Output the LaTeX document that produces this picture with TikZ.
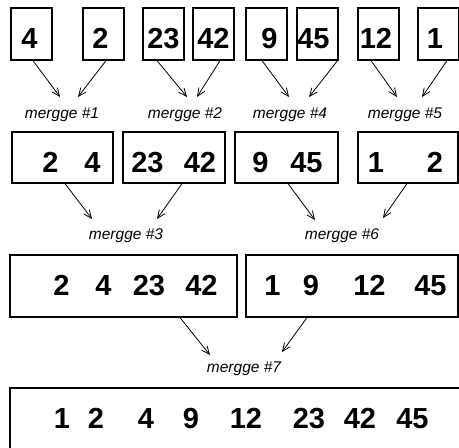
\documentclass[tikz,border=0pt]{standalone}
\usepackage{fontspec}
\setmainfont{Liberation Sans}
\usetikzlibrary{arrows.meta}
\begin{document}
\begin{tikzpicture}[x=1pt,y=-1pt,
  box/.style={draw,line width=1.2pt,inner sep=0pt,rectangle},
  num/.style={inner sep=0pt,anchor=base,font=\fontsize{29}{30}\selectfont\bfseries},
  lab/.style={inner sep=0pt,font=\fontsize{15.5}{16}\selectfont\itshape},
  arr/.style={line width=0.8pt,-{Straight Barb[length=8pt,width=7pt]}}]
\useasboundingbox[fill=white] (0,0) rectangle (459,448);
% row 1
\node[box,minimum width=41pt,minimum height=52pt] (b1) at (31.5,34) {};
\node[box,minimum width=41pt,minimum height=52pt] (b2) at (103.5,34) {};
\node[box,minimum width=41pt,minimum height=52pt] (b3) at (163.5,34) {};
\node[box,minimum width=41pt,minimum height=52pt] (b4) at (213.5,34) {};
\node[box,minimum width=41pt,minimum height=52pt] (b5) at (266.5,34) {};
\node[box,minimum width=41pt,minimum height=52pt] (b6) at (317.5,34) {};
\node[box,minimum width=41pt,minimum height=52pt] (b7) at (378.5,34) {};
\node[box,minimum width=41pt,minimum height=52pt] (b8) at (438.5,34) {};
\node[num] (n1) at (29.5,48) {4};
\node[num] (n2) at (100.5,48) {2};
\node[num] (n3) at (163.5,48) {23};
\node[num] (n4) at (213.5,48) {42};
\node[num] (n5) at (269.5,48) {9};
\node[num] (n6) at (313.5,48) {45};
\node[num] (n7) at (376,48) {12};
\node[num] (n8) at (435,48) {1};
% labels row 1
\node[lab] (m1) at (62,115) {mergge \#1};
\node[lab] (m2) at (185,115) {mergge \#2};
\node[lab] (m4) at (290,115) {mergge \#4};
\node[lab] (m5) at (405,115) {mergge \#5};
\draw[arr] ([xshift=1.5pt]b1.south) -- ([xshift=-2pt,yshift=18pt]m1.center);
\draw[arr] ([xshift=2.5pt]b2.south) -- ([xshift=16pt,yshift=18pt]m1.center);
\draw[arr] ([xshift=-6.5pt]b3.south) -- ([xshift=2pt,yshift=18pt]m2.center);
\draw[arr] ([xshift=6.5pt]b4.south) -- ([xshift=12pt,yshift=18pt]m2.center);
\draw[arr] ([xshift=-4.5pt]b5.south) -- ([xshift=-1pt,yshift=18pt]m4.center);
\draw[arr] ([xshift=-1pt]b6.south east) -- ([xshift=19pt,yshift=18pt]m4.center);
\draw[arr] ([xshift=-7.5pt]b7.south) -- ([xshift=-8pt,yshift=18pt]m5.center);
\draw[arr] ([xshift=8.5pt]b8.south) -- ([xshift=17pt,yshift=18pt]m5.center);
% row 2
\node[box,minimum width=101pt,minimum height=51pt] (c1) at (62.5,157.5) {};
\node[box,minimum width=102pt,minimum height=51pt] (c2) at (174,157.5) {};
\node[box,minimum width=103pt,minimum height=51pt] (c3) at (286.5,157.5) {};
\node[box,minimum width=100pt,minimum height=51pt] (c4) at (408,157.5) {};
\node[num] (p1) at (50.5,172) {2};
\node[num] (p2) at (92.5,172) {4};
\node[num] (p3) at (147.5,172) {23};
\node[num] (p4) at (200,172) {42};
\node[num] (p5) at (260.5,172) {9};
\node[num] (p6) at (306.5,172) {45};
\node[num] (p7) at (376,172) {1};
\node[num] (p8) at (435,172) {2};
\node[lab] (m3) at (126,236) {mergge \#3};
\node[lab] (m6) at (342,236) {mergge \#6};
\draw[arr] ([xshift=2.5pt]c1.south) -- ([xshift=-34pt,yshift=17pt]m3.center);
\draw[arr] ([xshift=8pt]c2.south) -- ([xshift=31pt,yshift=17pt]m3.center);
\draw[arr] ([xshift=1.5pt]c3.south) -- ([xshift=-27pt,yshift=16pt]m6.center);
\draw[arr] ([xshift=-1pt]c4.south) -- ([xshift=41pt,yshift=18pt]m6.center);
% row 3
\node[box,minimum width=227pt,minimum height=62pt] (d1) at (123.5,286) {};
\node[box,minimum width=212pt,minimum height=62pt] (d2) at (352,286) {};
\node[num] (q1) at (61.5,295) {2};
\node[num] (q2) at (103.5,295) {4};
\node[num] (q3) at (149,295) {23};
\node[num] (q4) at (201.5,295) {42};
\node[num] (q5) at (272.5,295) {1};
\node[num] (q6) at (311,295) {9};
\node[num] (q7) at (369.5,295) {12};
\node[num] (q8) at (430.5,295) {45};
\node[lab] (m7) at (244,369) {mergge \#7};
\draw[arr] ([xshift=56.5pt]d1.south) -- ([xshift=-34pt,yshift=14pt]m7.center);
\draw[arr] ([xshift=-45pt]d2.south) -- ([xshift=38pt,yshift=17pt]m7.center);
% row 4
\node[box,minimum width=462pt,minimum height=90pt] (e1) at (241,433) {};
\node[num] (r1) at (62,428) {1};
\node[num] (r2) at (96,428) {2};
\node[num] (r3) at (146,428) {4};
\node[num] (r4) at (191,428) {9};
\node[num] (r5) at (246,428) {12};
\node[num] (r6) at (309,428) {23};
\node[num] (r7) at (360,428) {42};
\node[num] (r8) at (412.5,428) {45};
\end{tikzpicture}
\end{document}
